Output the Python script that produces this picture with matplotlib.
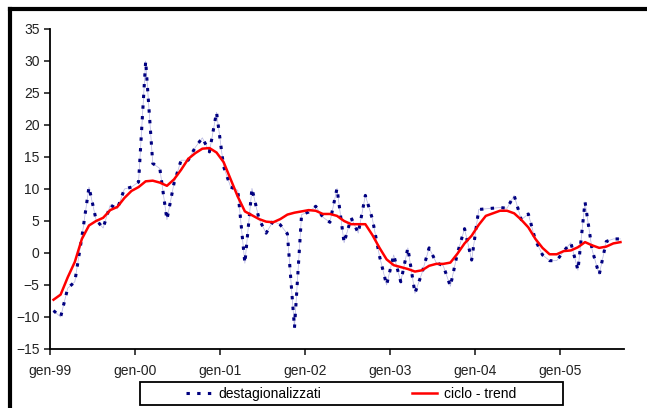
import numpy as np
import matplotlib.pyplot as plt
from matplotlib.lines import Line2D
from matplotlib.patches import Rectangle

plt.rcParams['font.family'] = ['Liberation Sans', 'DejaVu Sans']

# dati mensili gen-99 .. set-05
destag = [-9, -10, -5.5, -4.5, 2.5, 10.3, 5.2, 3.9, 7.5, 6.9, 10, 10.3,
          11.1, 30, 14, 13.2, 5.2, 10.9, 14.5, 14.5, 16.5, 18, 15.8, 22,
          13.5, 10.3, 9.8, -1.6, 10.1, 5.3, 3.1, 5, 4.4, 3, -11.7, 6,
          6.4, 7.3, 5.6, 4.8, 10.1, 1.6, 5.5, 3.1, 9, 5.3, -0.5, -5,
          -0.3, -4.5, 0.8, -6.3, -3.1, 0.8, -1.5, -2, -5.2, 0, 3.8, -1.1,
          6.8, 6.9, 7, 7.1, 7, 9, 5.2, 6.1, 2, -0.3, -1.2, -1.2,
          0.3, 1.6, -2.7, 8, 0.5, -3.4, 1.8, 2.2, 2.2]
trend = [-7.3, -6.5, -3.8, -1.4, 2.2, 4.3, 5.0, 5.5, 6.7, 7.2, 8.6, 9.7,
         10.3, 11.2, 11.3, 11.0, 10.5, 11.5, 13, 14.7, 15.6, 16.3, 16.4, 15.7,
         14.2, 11.5, 8.8, 6.5, 5.9, 5.3, 4.9, 4.8, 5.3, 6, 6.3, 6.5,
         6.7, 6.6, 6.1, 6.1, 5.8, 5.0, 4.5, 4.5, 4.5, 2.8, 0.8, -1.0,
         -1.9, -2.2, -2.5, -2.9, -2.7, -2.0, -1.7, -1.7, -1.5, -0.1, 1.5, 2.7,
         4.4, 5.8, 6.2, 6.6, 6.6, 6.2, 5.2, 4.0, 2.2, 0.8, -0.2, -0.2,
         0.3, 0.4, 0.9, 1.7, 1.2, 0.8, 1.0, 1.5, 1.7]
xlabels = ['gen-99', 'gen-00', 'gen-01', 'gen-02', 'gen-03', 'gen-04', 'gen-05']

n = len(destag)
x = np.arange(n) + 0.5

W, H = 647, 408
fig = plt.figure(figsize=(W/100, H/100), dpi=100)
ax = fig.add_axes([50/W, 1-349/H, 574/W, 320/H])

navy = '#000080'
blue_dash = (1.1, 2.4)
ax.plot(x, destag, color='#b4b4e0', lw=0.5, zorder=2)
ax.plot(x, destag, color=navy, lw=2.2, dashes=blue_dash, zorder=3)
ax.plot(x, trend, color='#ff0000', lw=1.8, zorder=4)

ax.set_xlim(0, n)
ax.set_ylim(-15, 35)
ax.set_yticks(np.arange(-15, 36, 5))
ax.set_xticks(np.arange(0, n, 12))
ax.set_xticklabels(xlabels)
ax.tick_params(axis='both', direction='out', length=4, width=1.2,
               labelsize=10, colors='#222222')
ax.tick_params(axis='x', pad=7)
for s in ['top', 'right']:
    ax.spines[s].set_visible(False)
for s in ['left', 'bottom']:
    ax.spines[s].set_linewidth(1.3)

# bordo esterno
fig.add_artist(Line2D([10/W, 1], [1-9/H, 1-9/H], color='black', lw=3))
fig.add_artist(Line2D([10/W, 10/W], [0, 1-9/H], color='black', lw=3))

# riquadro legenda
fig.add_artist(Rectangle((140/W, 1-405/H), 423/W, 23/H, transform=fig.transFigure,
                         facecolor='white', edgecolor='black', lw=1.3))
h1 = Line2D([], [], color=navy, lw=2.2, dashes=blue_dash)
h2 = Line2D([], [], color='#ff0000', lw=1.8)
leg = fig.legend([h1, h2], ['destagionalizzati', 'ciclo - trend'], ncol=2,
                 loc='center left', bbox_to_anchor=(186/W, 1-394/H),
                 fontsize=10, frameon=False, borderpad=0, borderaxespad=0,
                 handlelength=1.8, columnspacing=6.6, handletextpad=0.5)

fig.savefig('out.png', dpi=100)
